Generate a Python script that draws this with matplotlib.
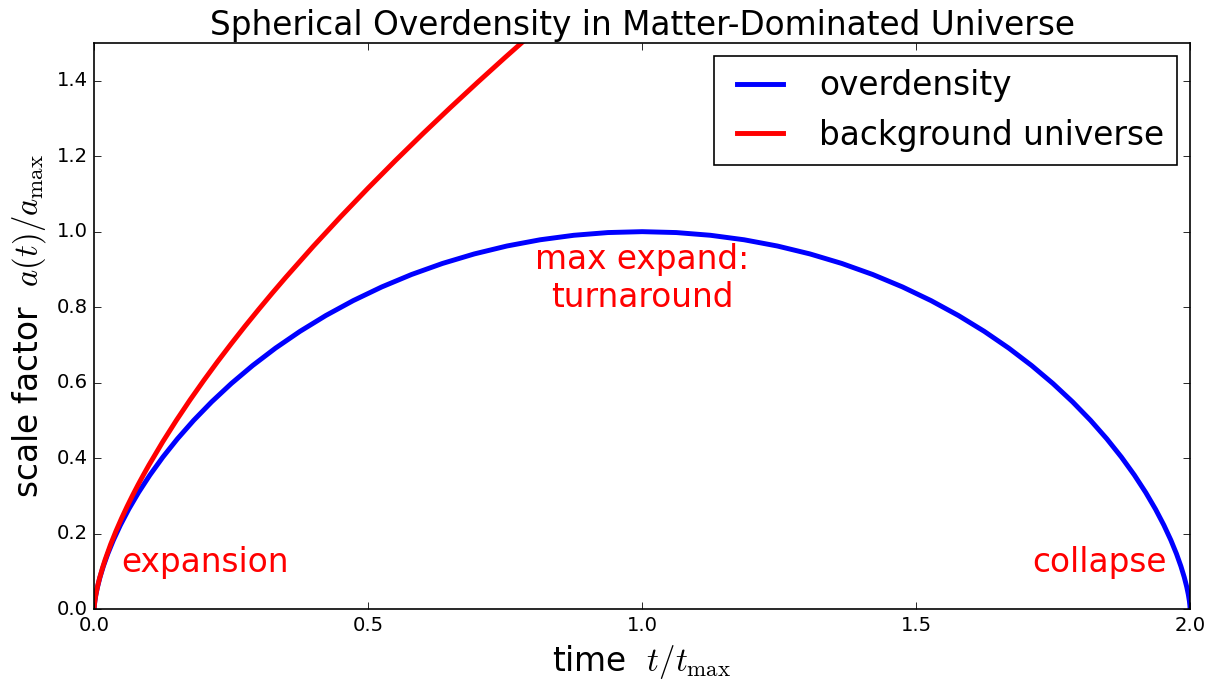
import matplotlib
matplotlib.use("Agg")
import matplotlib.pyplot as plt

# Overdensity curve (t/t_max, a/a_max)
t_over = [0.0, 0.00005, 0.0004, 0.00135, 0.00319, 0.0062, 0.01066, 0.01682, 0.02492,
          0.03519, 0.04784, 0.06303, 0.08092, 0.10165, 0.12531, 0.15197, 0.18169,
          0.21447, 0.25031, 0.28915, 0.33092, 0.37553, 0.42284, 0.47269, 0.52492,
          0.57932, 0.63566, 0.69370, 0.75319, 0.81385, 0.87540, 0.93755, 1.0,
          1.06245, 1.12460, 1.18615, 1.24681, 1.30630, 1.36434, 1.42068, 1.47508,
          1.52731, 1.57716, 1.62447, 1.66908, 1.71085, 1.74969, 1.78553,
          1.81831, 1.84803, 1.87469, 1.89835, 1.91908, 1.93697, 1.95216,
          1.96481, 1.97508, 1.98318, 1.98934, 1.99380, 1.99681, 1.99865,
          1.99960, 1.99995, 2.0]
a_over = [0.0, 0.00241, 0.00961, 0.02153, 0.03806, 0.05904, 0.08427, 0.11350, 0.14645,
          0.18280, 0.22222, 0.26430, 0.30866, 0.35486, 0.40246, 0.45099, 0.5,
          0.54901, 0.59755, 0.64514, 0.69134, 0.73570, 0.77779, 0.81720, 0.85355,
          0.88651, 0.91574, 0.94096, 0.96194, 0.97847, 0.99039, 0.99759, 1.0,
          0.99759, 0.99039, 0.97847, 0.96194, 0.94096, 0.91574, 0.88651, 0.85355,
          0.81720, 0.77779, 0.73570, 0.69134, 0.64514, 0.59755, 0.54901,
          0.5, 0.45099, 0.40246, 0.35486, 0.30866, 0.26430, 0.22222,
          0.18280, 0.14645, 0.11350, 0.08427, 0.05904, 0.03806, 0.02153,
          0.00961, 0.00241, 0.0]

# Background universe curve
t_bg = [0.0, 0.00002, 0.0001, 0.0002, 0.0004, 0.0007, 0.001, 0.002, 0.003, 0.005,
        0.0075, 0.01, 0.015, 0.02, 0.03, 0.04, 0.05, 0.06, 0.07, 0.08, 0.09,
        0.1, 0.125, 0.15, 0.175, 0.2, 0.225, 0.25, 0.275, 0.3, 0.325, 0.35,
        0.4, 0.45, 0.5, 0.55, 0.6, 0.65, 0.7, 0.75, 0.8]
a_bg = [0.0, 0.0013, 0.0038, 0.0061, 0.0096, 0.0140, 0.0177, 0.0281, 0.0368, 0.0518,
        0.0679, 0.0822, 0.1077, 0.1305, 0.1710, 0.2071, 0.2403, 0.2714, 0.3008,
        0.3288, 0.3556, 0.3815, 0.4427, 0.4999, 0.5541, 0.6056, 0.6551, 0.7027,
        0.7489, 0.7935, 0.8371, 0.8794, 0.9613, 1.0398, 1.1155, 1.1887, 1.2597,
        1.3287, 1.3960, 1.4617, 1.5260]

series_labels = ["overdensity", "background universe"]
title = "Spherical Overdensity in Matter-Dominated Universe"
xlabel = r"time  $t/t_{\rm max}$"
ylabel = r"scale factor  $a(t)/a_{\rm max}$"
xticks = [0.0, 0.5, 1.0, 1.5, 2.0]
yticks = [0.0, 0.2, 0.4, 0.6, 0.8, 1.0, 1.2, 1.4]

plt.style.use("classic")
plt.rcParams["mathtext.fontset"] = "cm"

DPI = 118
fig = plt.figure(figsize=(1207 / DPI, 682 / DPI), dpi=DPI, facecolor="white")
ax = fig.add_axes([0.078, 0.107, 0.908, 0.830])
ax.plot(t_over, a_over, color="blue", lw=3, label=series_labels[0])
ax.plot(t_bg, a_bg, color="red", lw=3, label=series_labels[1])
ax.set_xlim(0, 2)
ax.set_ylim(0, 1.5)
ax.set_xticks(xticks)
ax.set_yticks(yticks)
ax.tick_params(labelsize=12)
ax.set_xlabel(xlabel, fontsize=20)
ax.set_ylabel(ylabel, fontsize=20)
ax.set_title(title, fontsize=20)
ax.text(1.0, 0.875, "max expand:\nturnaround", color="red", fontsize=20,
        ha="center", va="center")
ax.text(0.05, 0.122, "expansion", color="red", fontsize=20, ha="left", va="center")
ax.text(1.958, 0.122, "collapse", color="red", fontsize=20, ha="right", va="center")
ax.legend(loc="upper right", fontsize=20, borderaxespad=0.4)
fig.savefig("out.png", dpi=DPI, facecolor="white")
